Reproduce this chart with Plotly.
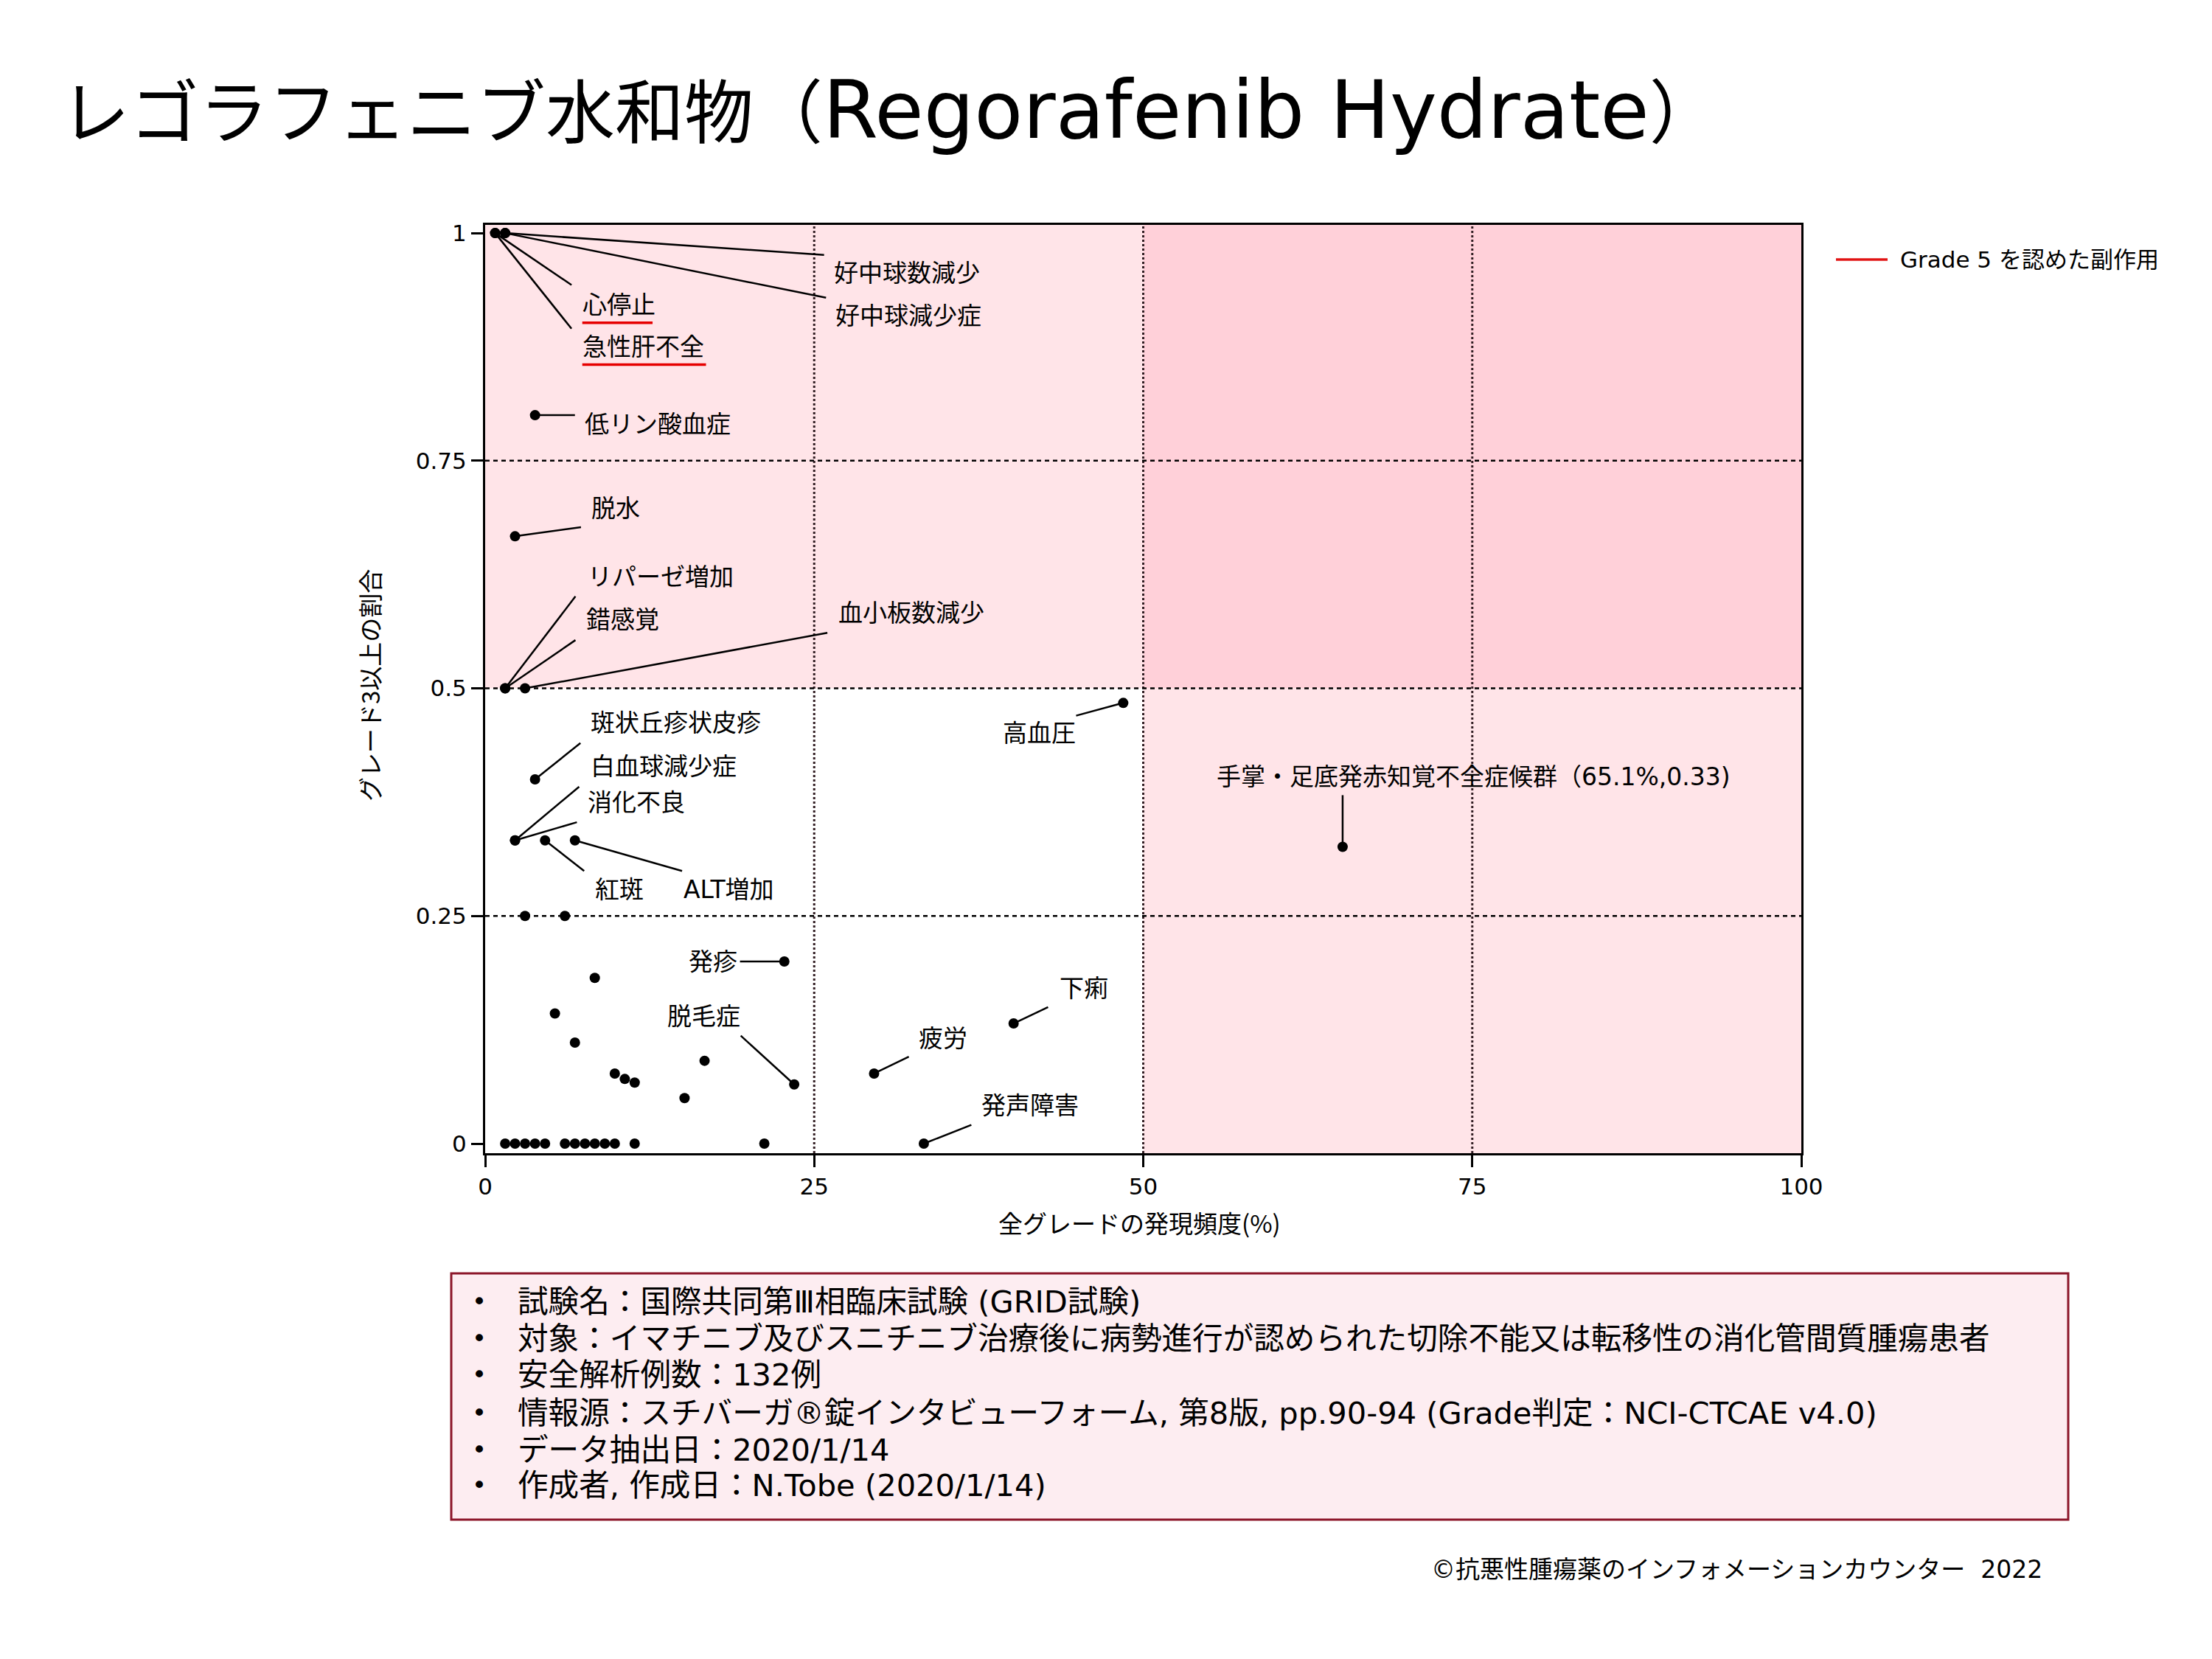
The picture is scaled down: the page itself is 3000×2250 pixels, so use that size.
import plotly.graph_objects as go

# ---------------- data ----------------
ae_names = [
    "心停止", "急性肝不全", "好中球数減少", "好中球減少症", "低リン酸血症", "脱水",
    "リパーゼ増加", "錯感覚", "血小板数減少", "斑状丘疹状皮疹", "白血球減少症", "消化不良",
    "紅斑", "ALT増加", "発疹", "脱毛症", "疲労", "下痢", "発声障害", "高血圧",
    "手掌・足底発赤知覚不全症候群",
    "", "", "", "", "", "", "", "", "", "",
    "", "", "", "", "", "", "", "", "", "", "", "", "",
]
all_grade_pct = [
    0.76, 0.76, 1.52, 1.52, 3.79, 2.27,
    1.52, 1.52, 3.03, 3.79, 2.27, 2.27,
    4.55, 6.82, 22.73, 23.48, 29.55, 40.15, 33.33, 48.48,
    65.15,
    3.03, 6.06, 8.33, 5.30, 6.82, 16.67, 9.85, 10.61, 11.36, 15.15,
    1.52, 2.27, 3.03, 3.79, 4.55, 6.06, 6.82, 7.58, 8.33, 9.09, 9.85, 11.36, 21.21,
]
grade3_ratio = [
    1.0, 1.0, 1.0, 1.0, 0.80, 0.667,
    0.5, 0.5, 0.5, 0.40, 0.333, 0.333,
    0.333, 0.333, 0.20, 0.065, 0.077, 0.132, 0.0, 0.484,
    0.326,
    0.25, 0.25, 0.182, 0.143, 0.111, 0.091, 0.077, 0.071, 0.067, 0.05,
    0, 0, 0, 0, 0, 0, 0, 0, 0, 0, 0, 0, 0,
]
grade5_names = ["心停止", "急性肝不全"]
hfs_value_text = "（65.1%,0.33)"

x_ticks = [0, 25, 50, 75, 100]
y_ticks = [0, 0.25, 0.5, 0.75, 1]
y_ticktext = ["0", "0.25", "0.5", "0.75", "1"]

title_jp = "レゴラフェニブ水和物"
title_en = "Regorafenib Hydrate"
x_title = "全グレードの発現頻度(%)"
y_title = "グレード3以上の割合"
legend_text = "Grade 5 を認めた副作用"
info_lines = [
    "試験名：国際共同第Ⅲ相臨床試験 (GRID試験)",
    "対象：イマチニブ及びスニチニブ治療後に病勢進行が認められた切除不能又は転移性の消化管間質腫瘍患者",
    "安全解析例数：132例",
    "情報源：スチバーガ®錠インタビューフォーム, 第8版, pp.90-94 (Grade判定：NCI-CTCAE v4.0)",
    "データ抽出日：2020/1/14",
    "作成者, 作成日：N.Tobe (2020/1/14)",
]
footer_text = "©抗悪性腫瘍薬のインフォメーションカウンター  2022"

# ---------------- layout (label placement, in axis units) ----------------
# name: (label x, label y, anchor, leader end x, leader end y, underline x1)
label_layout = {
    "心停止": (7.3, 0.921, "left", 6.56, 0.943, 12.72),
    "急性肝不全": (7.3, 0.875, "left", 6.56, 0.895, 16.78),
    "好中球数減少": (26.4, 0.956, "left", 25.75, 0.976, None),
    "好中球減少症": (26.5, 0.909, "left", 25.9, 0.929, None),
    "低リン酸血症": (7.45, 0.79, "left", 6.82, 0.80, None),
    "脱水": (7.95, 0.698, "left", 7.28, 0.677, None),
    "リパーゼ増加": (7.68, 0.622, "left", 6.86, 0.601, None),
    "錯感覚": (7.56, 0.575, "left", 6.86, 0.553, None),
    "血小板数減少": (26.72, 0.5825, "left", 26.0, 0.561, None),
    "斑状丘疹状皮疹": (7.9, 0.462, "left", 7.24, 0.44, None),
    "白血球減少症": (7.9, 0.414, "left", 7.14, 0.392, None),
    "消化不良": (7.68, 0.3745, "left", 6.97, 0.353, None),
    "紅斑": (8.21, 0.2786, "left", 7.52, 0.2995, None),
    "ALT増加": (14.96, 0.2786, "left", 14.96, 0.2995, None),
    "発疹": (19.25, 0.2, "right", 19.36, 0.2, None),
    "脱毛症": (13.73, 0.140, "left", 19.42, 0.1185, None),
    "疲労": (32.82, 0.1157, "left", 32.19, 0.0955, None),
    "下痢": (43.52, 0.1707, "left", 42.77, 0.150, None),
    "発声障害": (37.57, 0.042, "left", 36.94, 0.0206, None),
    "高血圧": (39.22, 0.4506, "left", 44.9, 0.470, None),
    "手掌・足底発赤知覚不全症候群": (75.07, 0.403, "center", 65.15, 0.3827, None),
}

W, H = 3000, 2250
X_MIN, X_MAX = 0, 100
Y_MIN, Y_MAX = -0.0105, 1.009
FONT = "DejaVu Sans, Noto Sans CJK JP"
CJK = "Noto Sans CJK JP"
LIGHT_PINK = "rgb(255,228,232)"
DARK_PINK = "rgb(255,208,217)"


def px(X):
    return X / W


def py(Y):
    return 1 - Y / H


fig = go.Figure()

# leader lines
lx, ly = [], []
for name, xv, yv in zip(ae_names, all_grade_pct, grade3_ratio):
    if name in label_layout:
        spec = label_layout[name]
        lx += [xv, spec[3], None]
        ly += [yv, spec[4], None]
fig.add_trace(go.Scatter(x=lx, y=ly, mode="lines", line=dict(color="black", width=2.5),
                         hoverinfo="skip", showlegend=False, cliponaxis=False))

# red underlines for grade 5 events
ux, uy = [], []
for name in grade5_names:
    spec = label_layout[name]
    uy_val = spec[1] - 0.0195
    ux += [spec[0] + 0.08, spec[5], None]
    uy += [uy_val, uy_val, None]
fig.add_trace(go.Scatter(x=ux, y=uy, mode="lines", line=dict(color="rgb(230,0,0)", width=3.5),
                         hoverinfo="skip", showlegend=False))

# points
fig.add_trace(go.Scatter(x=all_grade_pct, y=grade3_ratio, mode="markers",
                         marker=dict(color="black", size=14),
                         text=ae_names, showlegend=False, cliponaxis=False))

shapes = [
    dict(type="rect", xref="x", yref="y", x0=0, x1=50, y0=0.5, y1=Y_MAX,
         fillcolor=LIGHT_PINK, line_width=0, layer="below"),
    dict(type="rect", xref="x", yref="y", x0=50, x1=100, y0=0.5, y1=Y_MAX,
         fillcolor=DARK_PINK, line_width=0, layer="below"),
    dict(type="rect", xref="x", yref="y", x0=50, x1=100, y0=Y_MIN, y1=0.5,
         fillcolor=LIGHT_PINK, line_width=0, layer="below"),
]
for xv in x_ticks[1:-1]:
    shapes.append(dict(type="line", xref="x", yref="y", x0=xv, x1=xv, y0=Y_MIN, y1=Y_MAX,
                       line=dict(color="rgb(50,30,35)", width=3, dash="dot"), layer="below"))
for yv in y_ticks[1:-1]:
    shapes.append(dict(type="line", xref="x", yref="y", x0=X_MIN, x1=X_MAX, y0=yv, y1=yv,
                       line=dict(color="black", width=2.5, dash="6px,5px"), layer="below"))
# legend line
shapes.append(dict(type="line", xref="paper", yref="paper", x0=px(2490), x1=px(2560),
                   y0=py(352), y1=py(352), line=dict(color="rgb(225,20,20)", width=3.5)))
# info box
shapes.append(dict(type="rect", xref="paper", yref="paper", x0=px(612), x1=px(2805),
                   y0=py(1727), y1=py(2061), fillcolor="rgb(253,237,241)",
                   line=dict(color="rgb(140,22,42)", width=3), layer="below"))

annotations = []
for name in ae_names:
    if name in label_layout:
        spec = label_layout[name]
        txt = name + hfs_value_text if name.startswith("手掌") else name
        annotations.append(dict(x=spec[0], y=spec[1], xref="x", yref="y", text=txt,
                                showarrow=False, xanchor=spec[2], yanchor="middle",
                                font=dict(size=33, color="black", family=FONT)))

title_html = (title_jp + "（" + '<span style="font-size:108px">' + title_en + "</span>" + "）")
annotations.append(dict(x=px(80), y=py(150), xref="paper", yref="paper", text=title_html,
                        showarrow=False, xanchor="left", yanchor="middle",
                        font=dict(size=94, color="black", family=FONT)))
annotations.append(dict(x=px(1545), y=py(1658), xref="paper", yref="paper", text=x_title,
                        showarrow=False, xanchor="center", yanchor="middle",
                        font=dict(size=33, color="black", family=CJK)))
annotations.append(dict(x=px(501), y=py(930), xref="paper", yref="paper", text=y_title,
                        showarrow=False, xanchor="center", yanchor="middle", textangle=-90,
                        font=dict(size=33, color="black", family=CJK)))
annotations.append(dict(x=px(2575), y=py(352), xref="paper", yref="paper", text=legend_text,
                        showarrow=False, xanchor="left", yanchor="middle",
                        font=dict(size=31, color="black", family=FONT)))
info_y = [1765, 1815, 1864, 1916, 1966, 2014]
for line, yy in zip(info_lines, info_y):
    annotations.append(dict(x=px(650), y=py(yy), xref="paper", yref="paper", text="•",
                            showarrow=False, xanchor="center", yanchor="middle",
                            font=dict(size=34, color="black", family=FONT)))
    annotations.append(dict(x=px(700), y=py(yy), xref="paper", yref="paper", text=line,
                            showarrow=False, xanchor="left", yanchor="middle",
                            font=dict(size=41.6, color="black", family=FONT)))
annotations.append(dict(x=px(2772), y=py(2128), xref="paper", yref="paper", text=footer_text,
                        showarrow=False, xanchor="right", yanchor="middle",
                        font=dict(size=33, color="black", family=FONT)))

fig.update_layout(
    width=W, height=H,
    margin=dict(l=0, r=0, t=0, b=0),
    paper_bgcolor="white", plot_bgcolor="white",
    showlegend=False,
    shapes=shapes, annotations=annotations,
    font=dict(family=FONT, color="black"),
    xaxis=dict(domain=[px(658), px(2443)], range=[X_MIN, X_MAX], tickvals=x_ticks,
               ticks="outside", ticklen=16, tickwidth=2.5, tickcolor="black",
               showline=True, linecolor="black", linewidth=3, mirror=True,
               showgrid=False, zeroline=False, automargin=False,
               tickfont=dict(size=31, family=FONT, color="black")),
    yaxis=dict(domain=[py(1564), py(305)], range=[Y_MIN, Y_MAX], tickvals=y_ticks,
               ticktext=y_ticktext, ticks="outside", ticklen=16, tickwidth=2.5,
               tickcolor="black", showline=True, linecolor="black", linewidth=3,
               mirror=True, showgrid=False, zeroline=False, automargin=False,
               tickfont=dict(size=31, family=FONT, color="black")),
)

fig.write_html("out.html", config={"displayModeBar": False},
               post_script="document.body.style.margin='0';")
